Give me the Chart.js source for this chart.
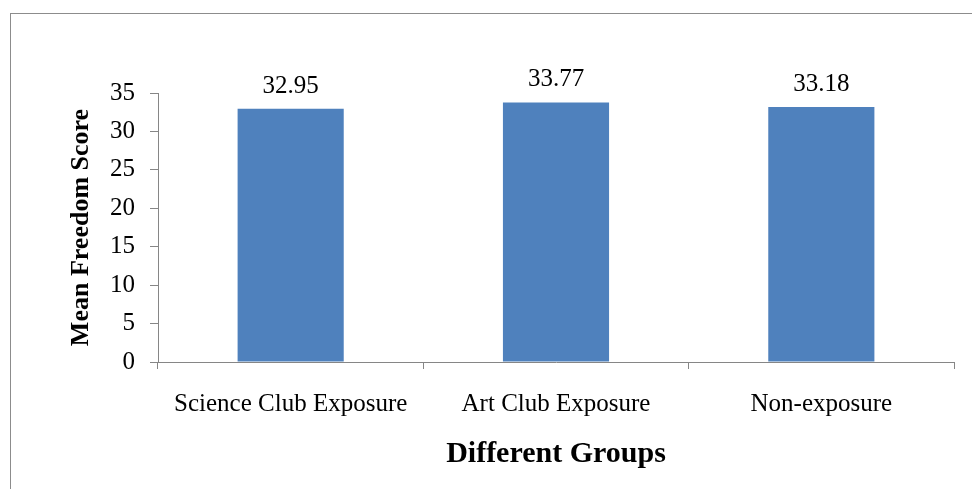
<!DOCTYPE html>
<html>
<head>
<meta charset="utf-8">
<script src="https://cdn.jsdelivr.net/npm/chart.js@4.4.0/dist/chart.umd.min.js"></script>
<style>
html,body{margin:0;padding:0;background:#fff;}
#wrap{width:972px;height:489px;position:relative;}
</style>
</head>
<body>
<div id="wrap"><canvas id="c" width="972" height="489"></canvas></div>
<script>
const categories = ["Science Club Exposure", "Art Club Exposure", "Non-exposure"];
const meanScores = [32.95, 33.77, 33.18];
const yTicks = [0, 5, 10, 15, 20, 25, 30, 35];

const FONT = "'Liberation Serif', 'Times New Roman', serif";
const AXIS = '#868686';

const frame = {
  id: 'frame',
  beforeDraw(chart) {
    const ctx = chart.ctx;
    ctx.save();
    ctx.fillStyle = '#fff';
    ctx.fillRect(0, 0, chart.width, chart.height);
    ctx.strokeStyle = '#8c8c8c';
    ctx.lineWidth = 1;
    ctx.strokeRect(10.5, 13.5, chart.width + 20, chart.height + 20);
    ctx.restore();
  }
};

const valueLabels = {
  id: 'valueLabels',
  afterDatasetsDraw(chart) {
    const ctx = chart.ctx;
    const meta = chart.getDatasetMeta(0);
    ctx.save();
    ctx.font = '25px ' + FONT;
    ctx.fillStyle = '#000';
    ctx.textAlign = 'center';
    ctx.textBaseline = 'alphabetic';
    meta.data.forEach((bar, i) => {
      ctx.fillText(meanScores[i].toFixed(2), bar.x, bar.y - 16);
    });
    ctx.restore();
  }
};

new Chart(document.getElementById('c'), {
  type: 'bar',
  data: {
    labels: categories,
    datasets: [{
      data: meanScores,
      backgroundColor: '#4F81BD',
      borderWidth: 0,
      barPercentage: 0.4,
      categoryPercentage: 1.0
    }]
  },
  options: {
    responsive: false,
    animation: false,
    devicePixelRatio: 1,
    layout: { padding: { left: 62, top: 93, right: 18, bottom: 17 } },
    plugins: { legend: { display: false }, tooltip: { enabled: false } },
    scales: {
      x: {
        offset: true,
        grid: { offset: true, drawOnChartArea: false, drawTicks: true, tickLength: 7, color: AXIS },
        border: { color: AXIS, width: 1 },
        ticks: { color: '#000', font: { family: FONT, size: 25 }, padding: 20, maxRotation: 0 },
        title: { display: true, text: 'Different Groups', color: '#000', font: { family: FONT, size: 30, weight: 'bold' }, padding: { top: 10, bottom: 0 } },
        afterFit(scale) { scale.height = 489 - 17 - 362; }
      },
      y: {
        min: 0, max: 35,
        afterBuildTicks(scale) { scale.ticks = yTicks.map(v => ({ value: v })); },
        grid: { drawOnChartArea: false, drawTicks: true, tickLength: 8, color: AXIS },
        border: { color: AXIS, width: 1 },
        ticks: { color: '#000', font: { family: FONT, size: 25 }, padding: 15 },
        title: { display: true, text: 'Mean Freedom Score', color: '#000', font: { family: FONT, size: 26, weight: 'bold' }, padding: { top: 4, bottom: 0 } },
        afterFit(scale) { scale.width = 158 - 62; }
      }
    }
  },
  plugins: [frame, valueLabels]
});
</script>
</body>
</html>
